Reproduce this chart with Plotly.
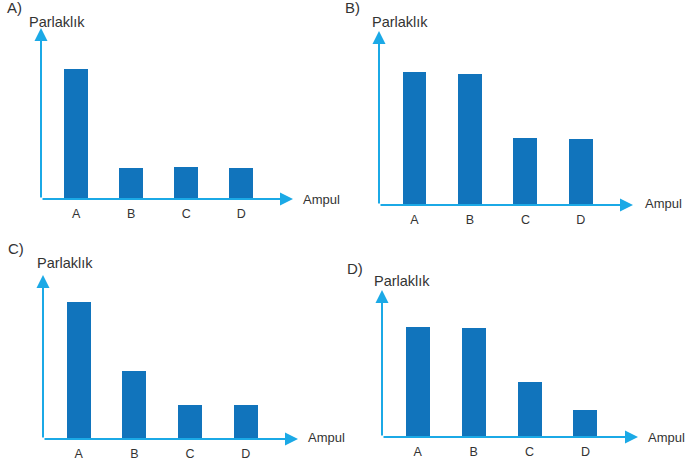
import plotly.graph_objects as go

categories = ["A", "B", "C", "D"]
values_A = [130, 31, 32, 31]
values_B = [133, 131, 67, 66]
values_C = [137, 68, 34, 34]
values_D = [110, 109, 55, 27]
series = [values_A, values_B, values_C, values_D]
panel_labels = ["A)", "B)", "C)", "D)"]
y_title = "Parlaklık"
x_title = "Ampul"

W, H = 685, 462
BAR = "#1174BC"
AXC = "#1BA9E6"
TXT = "#333333"
FONT = "Liberation Sans, Arial, sans-serif"

# panel frames in pixels
frames = [
    dict(x0=41, x1=293, top=28, base=199, lab=(5, 8), yt=(27, 22), xt=(301, 199)),
    dict(x0=379, x1=633, top=31, base=205, lab=(343, 8), yt=(370, 22), xt=(643, 203)),
    dict(x0=43, x1=298, top=275, base=439, lab=(6, 248), yt=(35, 263), xt=(306, 437)),
    dict(x0=382, x1=638, top=290, base=437, lab=(345, 268), yt=(372, 281), xt=(646, 437)),
]

fig = go.Figure()
for i, (vals, fr) in enumerate(zip(series, frames)):
    n = "" if i == 0 else str(i + 1)
    xa, ya = "x" + n, "y" + n
    fig.add_trace(go.Bar(x=list(range(len(categories))), y=vals, xaxis=xa, yaxis=ya,
                         marker=dict(color=BAR, line=dict(width=0)), width=0.43,
                         showlegend=False, hoverinfo="skip"))
    fig.layout["xaxis" + n] = dict(
        domain=[fr["x0"] / W, fr["x1"] / W], range=[-0.64, 3.94],
        tickvals=list(range(len(categories))), ticktext=categories,
        showgrid=False, zeroline=False, showline=False, anchor=ya,
        ticks="outside", ticklen=3, tickcolor="rgba(0,0,0,0)",
        tickfont=dict(family=FONT, size=12.5, color=TXT))
    fig.layout["yaxis" + n] = dict(
        domain=[1 - fr["base"] / H, 1 - fr["top"] / H], range=[0, fr["base"] - fr["top"]],
        showgrid=False, zeroline=False, showline=False, showticklabels=False, anchor=xa)
    # axis arrows
    fig.add_annotation(x=1, y=0, ax=0, ay=0, xref=xa + " domain", yref=ya + " domain",
                       axref=xa + " domain", ayref=ya + " domain", text="",
                       showarrow=True, arrowhead=2, arrowsize=1.3, arrowwidth=2, arrowcolor=AXC)
    fig.add_annotation(x=0, y=1, ax=0, ay=0, xref=xa + " domain", yref=ya + " domain",
                       axref=xa + " domain", ayref=ya + " domain", text="",
                       showarrow=True, arrowhead=2, arrowsize=1.3, arrowwidth=2, arrowcolor=AXC)
    # texts
    fig.add_annotation(x=fr["lab"][0] / W, y=1 - fr["lab"][1] / H, xref="paper", yref="paper",
                       text=panel_labels[i], showarrow=False, xanchor="left", yanchor="middle",
                       font=dict(family=FONT, size=15, color=TXT))
    fig.add_annotation(x=fr["yt"][0] / W, y=1 - fr["yt"][1] / H, xref="paper", yref="paper",
                       text=y_title, showarrow=False, xanchor="left", yanchor="middle",
                       font=dict(family=FONT, size=14.5, color=TXT))
    fig.add_annotation(x=fr["xt"][0] / W, y=1 - fr["xt"][1] / H, xref="paper", yref="paper",
                       text=x_title, showarrow=False, xanchor="left", yanchor="middle",
                       font=dict(family=FONT, size=13, color=TXT))

fig.update_layout(width=W, height=H, margin=dict(l=0, r=0, t=0, b=0),
                  paper_bgcolor="white", plot_bgcolor="white", bargap=0)
fig.write_html("out.html", config={"displayModeBar": False},
               post_script="document.body.style.margin='0';document.body.style.overflow='hidden';")
